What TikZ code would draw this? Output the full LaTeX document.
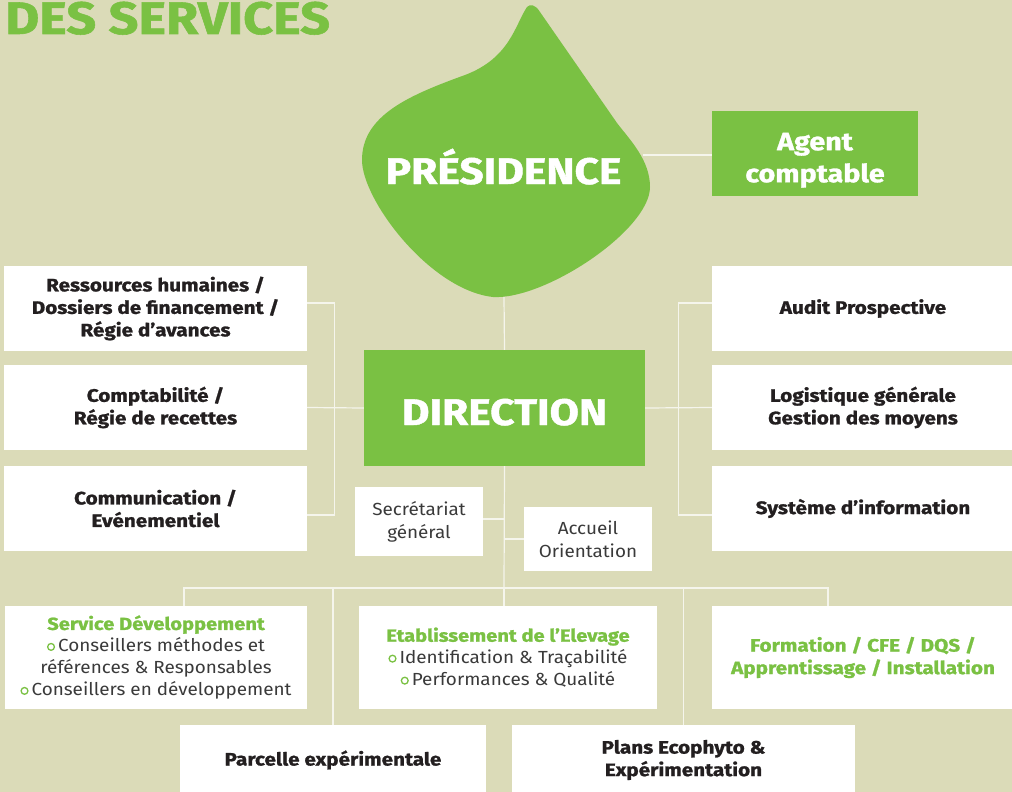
\documentclass[tikz,border=0pt]{standalone}
\usepackage{fontspec}
\setmainfont{Fira Sans}[UprightFeatures={FakeStretch=1.08}, BoldFeatures={FakeStretch=1.15, FakeBold=1.2}]
\usepackage{tikz}
\usetikzlibrary{positioning,calc}

\definecolor{leafgreen}{HTML}{7AC143}
\definecolor{sand}{HTML}{DBDBB8}
\definecolor{ink}{HTML}{231F20}
\definecolor{greytext}{HTML}{3A3A3A}
\definecolor{wire}{HTML}{F5F5EC}

% petite puce ronde verte
\newcommand{\puce}{\raisebox{1pt}{\tikz\draw[leafgreen, line width=1.3pt] (0pt,0pt) circle (3.4pt);}\hspace{3pt}}

\begin{document}
\begin{tikzpicture}[x=1pt, y=-1pt,
  svc/.style={fill=white, text=ink, align=center, inner sep=0pt, font=\fontsize{18}{22.5}\selectfont\bfseries},
  pole/.style={fill=white, text=greytext, align=center, inner sep=0pt, font=\fontsize{17.5}{22}\selectfont},
  small/.style={fill=white, text=greytext, align=center, inner sep=0pt, font=\fontsize{17.5}{23}\selectfont},
  big/.style={fill=leafgreen, text=white, align=center, inner sep=0pt},
  conn/.style={draw=wire, line width=1.2pt}]
  \fill[sand] (0,0) rectangle (1012,792);
  \useasboundingbox (0,0) rectangle (1012,792);

  \node[anchor=base west, text=leafgreen, inner sep=0pt, font=\fontsize{45.5}{45}\selectfont\bfseries] (title) at (5,34) {DES SERVICES};

  % la feuille
  \fill[leafgreen] (527,7) .. controls (515,25) and (510,58) .. (465,75)
    .. controls (410,95) and (362,115) .. (362,160)
    .. controls (362,200) and (430,290) .. (493,297)
    .. controls (545,300) and (650,230) .. (650,187)
    .. controls (650,160) and (630,140) .. (617,123)
    -- (540,12) .. controls (535,4) and (530,4) .. (527,7) -- cycle;
  \node[anchor=base, text=white, inner sep=0pt, font=\fontsize{37}{37}\selectfont\bfseries] (pres) at (503.5,184) {PRÉSIDENCE};
  \coordinate (leafbot) at (504,297);
  \coordinate (leafright) at (643,155);

  \node[big, minimum width=206, minimum height=85, text height=63pt, font=\fontsize{25}{32}\selectfont\bfseries] (agent) at (815,153.5) {Agent\\comptable};
  \node[big, minimum width=281, minimum height=116, text height=34pt, text depth=0pt, font=\fontsize{37}{37}\selectfont\bfseries] (dir) at (504.5,408) {DIRECTION};

  \node[svc, minimum width=303, minimum height=85] (rh) at (155.5,308.5) {Ressources humaines /\\Dossiers de financement /\\Régie d’avances};
  \node[svc, minimum width=303, minimum height=85] (compta) at (155.5,407.5) {Comptabilité /\\Régie de recettes};
  \node[svc, minimum width=303, minimum height=85] (comm) at (155.5,508.5) {Communication /\\Evénementiel};

  \node[svc, minimum width=302, minimum height=85] (audit) at (863,308.5) {Audit Prospective};
  \node[svc, minimum width=302, minimum height=85] (logist) at (863,407.5) {Logistique générale\\Gestion des moyens};
  \node[svc, minimum width=302, minimum height=85] (sysinfo) at (863,508.5) {Système d’information};

  \node[small, minimum width=128, minimum height=69] (secr) at (419,521.5) {Secrétariat\\général};
  \node[small, minimum width=128, minimum height=64] (accueil) at (588,539) {Accueil\\Orientation};

  \node[pole, minimum width=302, minimum height=103] (servdev) at (156,657.5)
    {\textcolor{leafgreen}{\fontsize{17.5}{22}\selectfont\bfseries Service Développement}\\
     \puce Conseillers méthodes et\\références \& Responsables\\\puce Conseillers en développement};
  \node[pole, minimum width=298, minimum height=103] (etab) at (508,657.5)
    {\textcolor{leafgreen}{\fontsize{17.5}{22}\selectfont\bfseries Etablissement de l’Elevage}\\
     \puce Identification \& Traçabilité\\\puce Performances \& Qualité};
  \node[svc, text=leafgreen, minimum width=302, minimum height=103] (form) at (863,657.5) {Formation / CFE / DQS /\\Apprentissage / Installation};

  \node[svc, minimum width=306, minimum height=70] (parcelle) at (333,760) {Parcelle expérimentale};
  \node[svc, minimum width=343, minimum height=70] (plans) at (683.5,760) {Plans Ecophyto \&\\Expérimentation};

  % liaisons
  \coordinate (bus) at (504,588);
  \draw[conn] (leafbot) -- (dir.north);
  \draw[conn] (leafright) -- (agent.west |- leafright);
  \draw[conn] ([yshift=5.5pt]rh.east) -- ++(27,0) |- ([yshift=-6.5pt]comm.east);
  \draw[conn] (compta.east) -- (dir.west);
  \draw[conn] ([yshift=5.5pt]audit.west) -- ++(-33,0) |- ([yshift=-6.5pt]sysinfo.west);
  \draw[conn] (dir.east) -- (logist.west);
  \draw[conn] (dir.south) -- (bus);
  \draw[conn] ([yshift=2.5pt]secr.east) -- ([yshift=2.5pt]secr.east -| bus);
  \draw[conn] (accueil.west) -- (accueil.west -| bus);
  \draw[conn] ([xshift=28pt]servdev.north) |- (bus) -| ([xshift=-35pt]form.north);
  \draw[conn] (etab.north -| bus) -- (bus);
  \draw[conn] (parcelle.north) -- (parcelle.north |- bus);
  \draw[conn] (plans.north) -- (plans.north |- bus);
\end{tikzpicture}
\end{document}
